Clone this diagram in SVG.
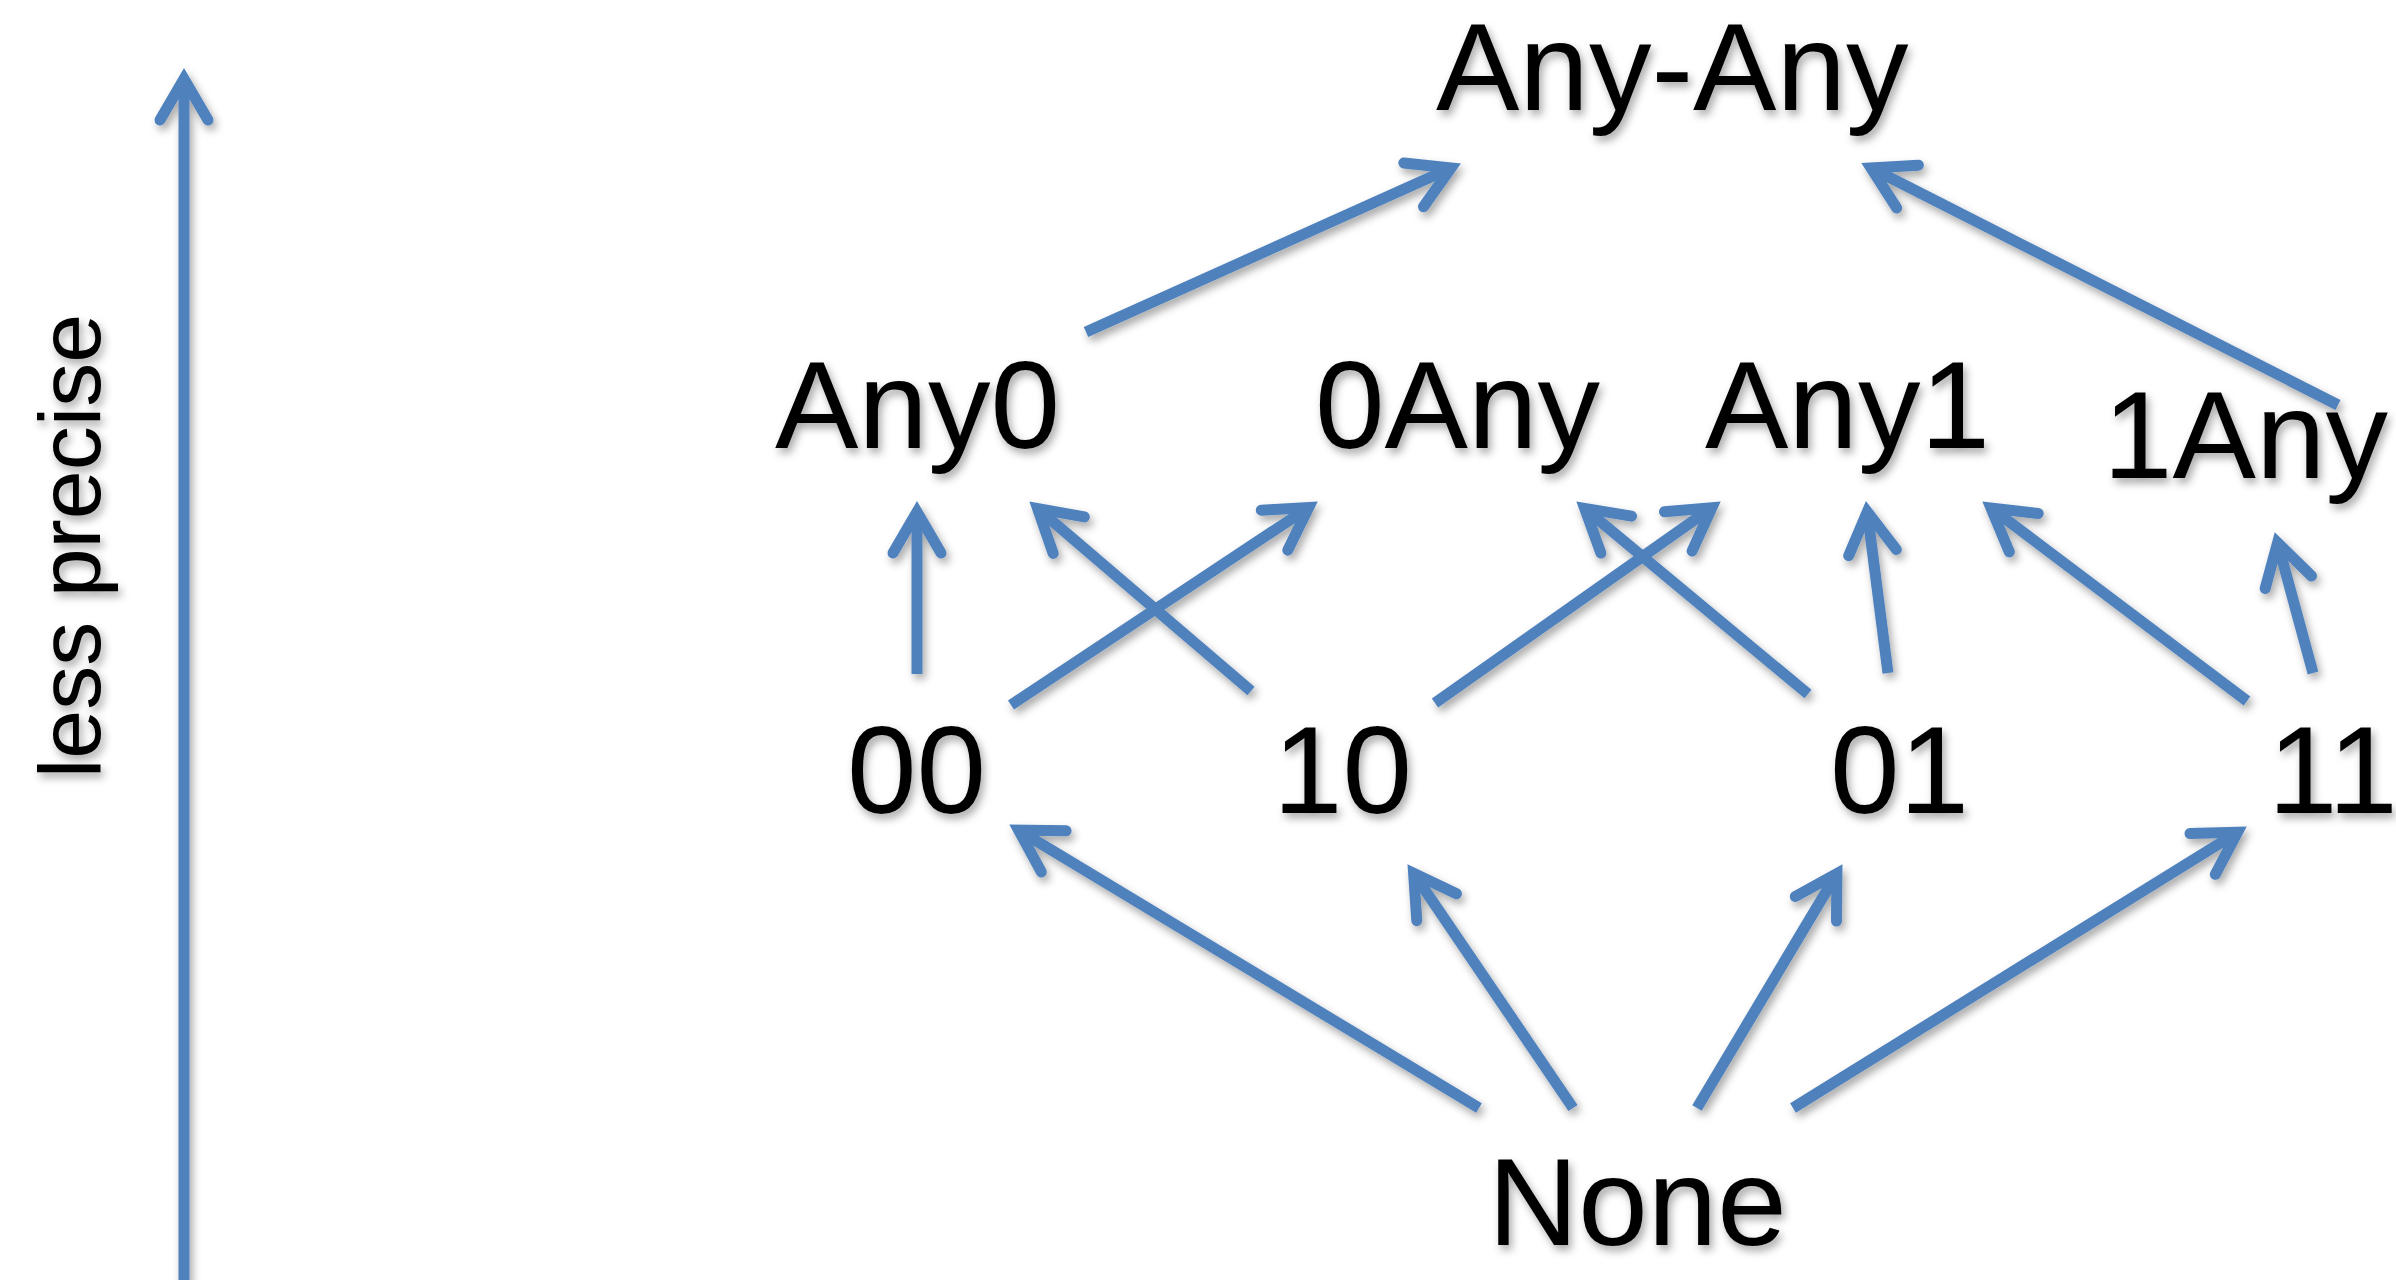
<svg xmlns="http://www.w3.org/2000/svg" width="2396" height="1280" viewBox="0 0 2396 1280">
  <style>
    .label { font-family: "Liberation Sans", Arial, sans-serif; font-size: 125px; fill: #000; }
    .axis-label { font-family: "Liberation Sans", Arial, sans-serif; font-size: 88px; fill: #000; }
    .edge { stroke: #4F81BD; stroke-width: 11; fill: none; stroke-linecap: butt; marker-end: url(#chevron); }
  </style>
  <defs>
    <filter id="shadow" x="-20%" y="-20%" width="140%" height="140%">
      <feDropShadow dx="3" dy="5" stdDeviation="4" flood-color="#000" flood-opacity="0.35"/>
    </filter>
    <!-- open chevron arrowhead, round ends, pointed tip -->
    <marker id="chevron" markerUnits="userSpaceOnUse" orient="auto" refX="0" refY="0" markerWidth="120" markerHeight="120" viewBox="-60 -60 120 120" overflow="visible">
      <path d="M-41,-24 L0,0 L-41,24" fill="none" stroke="#4F81BD" stroke-width="11" stroke-linecap="round" stroke-linejoin="miter"/>
    </marker>
  </defs>

  <rect width="2396" height="1280" fill="#fff"/>

  <!-- connectors -->
  <g id="connectors" filter="url(#shadow)">
    <!-- precision axis -->
    <line class="edge" x1="184" y1="1295" x2="184" y2="79"/>
    <!-- second level to top -->
    <line class="edge" x1="1086" y1="332" x2="1451" y2="168"/>
    <line class="edge" x1="2338" y1="405" x2="1871" y2="168"/>
    <!-- pairs to second level -->
    <line class="edge" x1="917" y1="674" x2="917" y2="512"/>
    <line class="edge" x1="1251" y1="691" x2="1037.6" y2="508.5"/>
    <line class="edge" x1="1011" y1="705" x2="1308.7" y2="507.5"/>
    <line class="edge" x1="1435" y1="703" x2="1711.8" y2="507.8"/>
    <line class="edge" x1="1808" y1="694" x2="1584.7" y2="508.4"/>
    <line class="edge" x1="1888" y1="673" x2="1867.3" y2="511.9"/>
    <line class="edge" x1="2247" y1="701" x2="1991" y2="508"/>
    <line class="edge" x1="2313" y1="673" x2="2277.6" y2="542.7"/>
    <!-- bottom to pairs -->
    <line class="edge" x1="1479" y1="1108" x2="1018.6" y2="830.2"/>
    <line class="edge" x1="1573" y1="1108" x2="1413.6" y2="873.3"/>
    <line class="edge" x1="1697" y1="1108" x2="1836.9" y2="873.6"/>
    <line class="edge" x1="1793" y1="1108" x2="2237.5" y2="832.3"/>
  </g>

  <g id="axis-label" filter="url(#shadow)">
    <text class="axis-label" transform="translate(100,546) rotate(-90)" x="0" y="0" text-anchor="middle">less precise</text>
  </g>

  <g id="node-any-any" filter="url(#shadow)">
    <text class="label" x="1436" y="110">Any-Any</text>
  </g>
  <g id="node-any0" filter="url(#shadow)">
    <text class="label" x="775" y="448">Any0</text>
  </g>
  <g id="node-0any" filter="url(#shadow)">
    <text class="label" x="1315" y="448">0Any</text>
  </g>
  <g id="node-any1" filter="url(#shadow)">
    <text class="label" x="1705" y="448">Any1</text>
  </g>
  <g id="node-1any" filter="url(#shadow)">
    <text class="label" x="2103" y="478">1Any</text>
  </g>
  <g id="node-00" filter="url(#shadow)">
    <text class="label" x="847" y="813">00</text>
  </g>
  <g id="node-10" filter="url(#shadow)">
    <text class="label" x="1273" y="813">10</text>
  </g>
  <g id="node-01" filter="url(#shadow)">
    <text class="label" x="1830" y="813">01</text>
  </g>
  <g id="node-11" filter="url(#shadow)">
    <text class="label" x="2268" y="813">11</text>
  </g>
  <g id="node-none" filter="url(#shadow)">
    <text class="label" x="1488" y="1245">None</text>
  </g>
</svg>
